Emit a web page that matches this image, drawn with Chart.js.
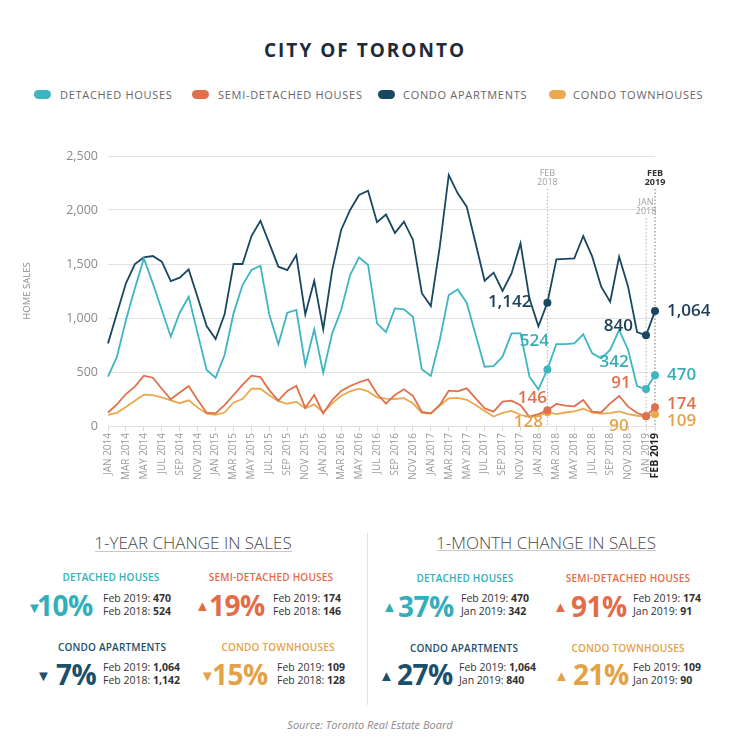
<!DOCTYPE html>
<html>
<head>
<meta charset="utf-8">
<script src="https://cdn.jsdelivr.net/npm/chart.js@4.4.1/dist/chart.umd.min.js"></script>
<style>
  body { margin: 0; background: #fff; font-family: "Open Sans", sans-serif; }
  #page { position: relative; width: 734px; height: 751px; overflow: hidden; background: #fff; }
  .t { position: absolute; white-space: nowrap; transform: translateY(-50%); line-height: 1; }
  .c { transform: translate(-50%, -50%); }
  .title { font-weight: 700; font-size: 19px; letter-spacing: 2px; color: #1d2b3a; }
  .leg { font-size: 11px; letter-spacing: 0.7px; color: #666; }
  .pill { position: absolute; width: 17px; height: 9px; border-radius: 5px; }
  .head { font-size: 17px; font-weight: 300; color: #4a4a4a; }
  .rule { position: absolute; height: 1px; background: #c8c8c8; }
  .lab { font-size: 10px; font-weight: 600; letter-spacing: 0.2px; }
  .tri { font-size: 15px; }
  .big { font-size: 28px; font-weight: 700; letter-spacing: -0.5px; }
  .sm { font-size: 10.5px; color: #333; }
  .sm b { font-weight: 700; }
  .teal { color: #33aebb; }
  .semi { color: #e36c48; }
  .cond { color: #1c4f6b; }
  .town { color: #e3a245; }
  #chartBox { position: absolute; left: 0; top: 130px; width: 734px; height: 370px; }
</style>
</head>
<body>
<div id="page">
  <div class="t c title" style="left:365px; top:50px;">CITY OF TORONTO</div>

  <div class="pill" style="left:34px; top:90px; background:#3fb5c1;"></div>
  <div class="t leg" style="left:60px; top:94px;">DETACHED HOUSES</div>
  <div class="pill" style="left:192px; top:90px; background:#e0704c;"></div>
  <div class="t leg" style="left:218px; top:94px;">SEMI-DETACHED HOUSES</div>
  <div class="pill" style="left:378px; top:90px; background:#19475f;"></div>
  <div class="t leg" style="left:403px; top:94px;">CONDO APARTMENTS</div>
  <div class="pill" style="left:549px; top:90px; background:#eaa94e;"></div>
  <div class="t leg" style="left:573px; top:94px;">CONDO TOWNHOUSES</div>

  <div id="chartBox"><canvas id="chart"></canvas></div>

  <!-- 1-year panel -->
  <div class="t c head" style="left:193px; top:542px;">1-YEAR CHANGE IN SALES</div>
  <div class="rule" style="left:95px; top:551px; width:197px;"></div>
  <div style="position:absolute; left:367px; top:533px; width:1px; height:172px; background:#e2e2e2;"></div>

  <div class="t c lab teal" style="left:111px; top:577px;">DETACHED HOUSES</div>
  <div class="t tri teal" style="left:27px; top:607px;">▼</div>
  <div class="t big teal" style="left:37px; top:605px;">10%</div>
  <div class="t sm" style="left:103px; top:598px;">Feb 2019: <b>470</b></div>
  <div class="t sm" style="left:103px; top:611px;">Feb 2018: <b>524</b></div>

  <div class="t c lab semi" style="left:271px; top:577px;">SEMI-DETACHED HOUSES</div>
  <div class="t tri semi" style="left:195px; top:605px;">▲</div>
  <div class="t big semi" style="left:209px; top:605px;">19%</div>
  <div class="t sm" style="left:273px; top:598px;">Feb 2019: <b>174</b></div>
  <div class="t sm" style="left:273px; top:611px;">Feb 2018: <b>146</b></div>

  <div class="t c lab cond" style="left:112px; top:647px;">CONDO APARTMENTS</div>
  <div class="t tri cond" style="left:36px; top:675px;">▼</div>
  <div class="t big cond" style="left:56px; top:674px;">7%</div>
  <div class="t sm" style="left:103px; top:667px;">Feb 2019: <b>1,064</b></div>
  <div class="t sm" style="left:103px; top:680px;">Feb 2018: <b>1,142</b></div>

  <div class="t c lab town" style="left:278px; top:647px;">CONDO TOWNHOUSES</div>
  <div class="t tri town" style="left:200px; top:675px;">▼</div>
  <div class="t big town" style="left:212px; top:674px;">15%</div>
  <div class="t sm" style="left:277px; top:667px;">Feb 2019: <b>109</b></div>
  <div class="t sm" style="left:277px; top:680px;">Feb 2018: <b>128</b></div>

  <!-- 1-month panel -->
  <div class="t c head" style="left:546px; top:542px;">1-MONTH CHANGE IN SALES</div>
  <div class="rule" style="left:437px; top:550px; width:219px;"></div>

  <div class="t c lab teal" style="left:465px; top:578px;">DETACHED HOUSES</div>
  <div class="t tri teal" style="left:382px; top:606px;">▲</div>
  <div class="t big teal" style="left:398px; top:606px;">37%</div>
  <div class="t sm" style="left:461px; top:598px;">Feb 2019: <b>470</b></div>
  <div class="t sm" style="left:461px; top:611px;">Jan 2019: <b>342</b></div>

  <div class="t c lab semi" style="left:628px; top:578px;">SEMI-DETACHED HOUSES</div>
  <div class="t tri semi" style="left:553px; top:606px;">▲</div>
  <div class="t big semi" style="left:571px; top:606px;">91%</div>
  <div class="t sm" style="left:633px; top:598px;">Feb 2019: <b>174</b></div>
  <div class="t sm" style="left:633px; top:611px;">Jan 2019: <b>91</b></div>

  <div class="t c lab cond" style="left:464px; top:648px;">CONDO APARTMENTS</div>
  <div class="t tri cond" style="left:379px; top:675px;">▲</div>
  <div class="t big cond" style="left:397px; top:674px;">27%</div>
  <div class="t sm" style="left:459px; top:667px;">Feb 2019: <b>1,064</b></div>
  <div class="t sm" style="left:459px; top:680px;">Jan 2019: <b>840</b></div>

  <div class="t c lab town" style="left:628px; top:648px;">CONDO TOWNHOUSES</div>
  <div class="t tri town" style="left:554px; top:675px;">▲</div>
  <div class="t big town" style="left:573px; top:674px;">21%</div>
  <div class="t sm" style="left:633px; top:667px;">Feb 2019: <b>109</b></div>
  <div class="t sm" style="left:633px; top:680px;">Jan 2019: <b>90</b></div>

  <div class="t c" style="left:370px; top:724px; font-size:11px; font-style:italic; color:#8a8a8a;">Source: Toronto Real Estate Board</div>
</div>

<script>
const months = [
  "JAN 2014", "FEB 2014", "MAR 2014", "APR 2014", "MAY 2014", "JUN 2014", "JUL 2014", "AUG 2014", "SEP 2014", "OCT 2014", "NOV 2014", "DEC 2014",
  "JAN 2015", "FEB 2015", "MAR 2015", "APR 2015", "MAY 2015", "JUN 2015", "JUL 2015", "AUG 2015", "SEP 2015", "OCT 2015", "NOV 2015", "DEC 2015",
  "JAN 2016", "FEB 2016", "MAR 2016", "APR 2016", "MAY 2016", "JUN 2016", "JUL 2016", "AUG 2016", "SEP 2016", "OCT 2016", "NOV 2016", "DEC 2016",
  "JAN 2017", "FEB 2017", "MAR 2017", "APR 2017", "MAY 2017", "JUN 2017", "JUL 2017", "AUG 2017", "SEP 2017", "OCT 2017", "NOV 2017", "DEC 2017",
  "JAN 2018", "FEB 2018", "MAR 2018", "APR 2018", "MAY 2018", "JUN 2018", "JUL 2018", "AUG 2018", "SEP 2018", "OCT 2018", "NOV 2018", "DEC 2018",
  "JAN 2019", "FEB 2019"
];

const detached = [
  457, 642, 981, 1275, 1552, 1321, 1074, 827, 1049, 1197, 855, 518,
  447, 657, 1043, 1305, 1444, 1484, 1028, 756, 1049, 1074, 565, 895,
  494, 858, 1074, 1398, 1561, 1491, 950, 870, 1089, 1080, 1012, 525,
  463, 796, 1213, 1265, 1142, 842, 549, 555, 642, 858, 858, 457,
  339, 524, 759, 759, 765, 849, 673, 626, 704, 889, 704, 370,
  342, 470
];
const semiDetached = [
  125, 200, 296, 364, 466, 447, 345, 247, 310, 370, 240, 123,
  117, 194, 287, 380, 466, 452, 330, 235, 325, 372, 168, 287,
  117, 240, 325, 370, 405, 432, 298, 207, 288, 340, 280, 130,
  117, 195, 327, 320, 349, 256, 164, 133, 225, 235, 192, 86,
  110, 146, 204, 188, 182, 241, 133, 125, 210, 278, 179, 120,
  91, 174
];
const condoApts = [
  765, 1045, 1321, 1500, 1561, 1574, 1521, 1342, 1373, 1450, 1190, 926,
  805, 1034, 1500, 1500, 1759, 1901, 1688, 1475, 1444, 1583, 1034, 1345,
  895, 1444, 1815, 2000, 2139, 2179, 1887, 1958, 1787, 1892, 1725, 1230,
  1111, 1660, 2324, 2154, 2031, 1690, 1345, 1420, 1250, 1413, 1691, 1180,
  923, 1142, 1543, 1548, 1552, 1759, 1568, 1290, 1151, 1568, 1290, 870,
  840, 1064
];
const condoTowns = [
  104, 122, 176, 234, 290, 285, 265, 238, 211, 238, 170, 115,
  104, 125, 218, 250, 345, 345, 285, 230, 206, 225, 164, 200,
  125, 210, 280, 320, 345, 320, 265, 253, 250, 258, 210, 122,
  116, 190, 256, 260, 243, 195, 140, 88, 122, 140, 104, 82,
  92, 128, 110, 125, 135, 160, 125, 115, 120, 135, 110, 95,
  90, 109
];
const yTicks = [0, 500, 1000, 1500, 2000, 2500];
const markedMonths = [49, 60, 61];

const colors = ["#3fb5c1", "#e0704c", "#19475f", "#eaa94e"];
const labelColors = ["#36adba", "#e0704c", "#1b3f55", "#e3a44c"];

function makeSet(name, data, color) {
  return {
    label: name,
    data: data,
    borderColor: color,
    backgroundColor: color,
    borderWidth: 1.8,
    tension: 0,
    pointRadius: (ctx) => (markedMonths.includes(ctx.dataIndex) ? 4 : 0),
    pointBorderWidth: 0,
    pointBackgroundColor: color,
  };
}

// dotted reference lines for Feb 2018, Jan 2019, Feb 2019
const refLines = {
  id: "refLines",
  beforeDatasetsDraw(chart) {
    const { ctx, chartArea, scales } = chart;
    const marks = [
      { i: 49, words: ["FEB", "2018"], top: 17, color: "#a0a0a0", bold: false },
      { i: 60, words: ["JAN", "2018"], top: 46, color: "#a0a0a0", bold: false },
      { i: 61, words: ["FEB", "2019"], top: 17, color: "#333", bold: true },
    ];
    ctx.save();
    marks.forEach((m) => {
      const x = scales.x.getPixelForValue(m.i);
      ctx.fillStyle = m.color;
      ctx.font = (m.bold ? "700 " : "400 ") + "9px 'Open Sans'";
      ctx.textAlign = "center";
      ctx.textBaseline = "middle";
      ctx.fillText(m.words[0], x, chartArea.top + m.top);
      ctx.fillText(m.words[1], x, chartArea.top + m.top + 9);
      ctx.strokeStyle = m.bold ? "#777" : "#b5b5b5";
      ctx.lineWidth = 1;
      ctx.setLineDash([1.5, 2]);
      ctx.beginPath();
      ctx.moveTo(x, chartArea.top + m.top + 16);
      ctx.lineTo(x, chartArea.bottom);
      ctx.stroke();
    });
    ctx.restore();
  },
};

// value callouts next to the marked points
const callouts = {
  id: "callouts",
  afterDatasetsDraw(chart) {
    const { ctx } = chart;
    const spots = [
      [2, 49, "right", -16, -1], [2, 60, "right", -13, -9], [2, 61, "left", 12, 0],
      [0, 49, "center", -13, -28], [0, 60, "center", -32, -27], [0, 61, "left", 12, 0],
      [1, 49, "center", -15, -12], [1, 60, "center", -25, -33], [1, 61, "left", 12, -3],
      [3, 49, "center", -19, 10], [3, 60, "center", -27, 10], [3, 61, "left", 12, 7],
    ];
    ctx.save();
    ctx.font = "600 17px 'Open Sans'";
    ctx.textBaseline = "middle";
    spots.forEach(([d, i, align, dx, dy]) => {
      const pt = chart.getDatasetMeta(d).data[i];
      ctx.fillStyle = labelColors[d];
      ctx.textAlign = align;
      ctx.fillText(chart.data.datasets[d].data[i].toLocaleString("en-US"), pt.x + dx, pt.y + dy);
    });
    ctx.restore();
  },
};

new Chart(document.getElementById("chart"), {
  type: "line",
  data: {
    labels: months,
    datasets: [
      makeSet("DETACHED HOUSES", detached, colors[0]),
      makeSet("SEMI-DETACHED HOUSES", semiDetached, colors[1]),
      makeSet("CONDO APARTMENTS", condoApts, colors[2]),
      makeSet("CONDO TOWNHOUSES", condoTowns, colors[3]),
    ],
  },
  options: {
    responsive: true,
    maintainAspectRatio: false,
    animation: false,
    layout: { padding: { top: 26, right: 79, left: 0, bottom: 0 } },
    plugins: { legend: { display: false }, tooltip: { enabled: false } },
    scales: {
      x: {
        offset: false,
        grid: {
          drawOnChartArea: false,
          tickLength: 5,
          color: (ctx) => (ctx.index % 2 === 0 || ctx.index === 61 ? "#d8d8d8" : "rgba(0,0,0,0)"),
        },
        border: { display: false },
        ticks: {
          autoSkip: false,
          maxRotation: 90,
          minRotation: 90,
          padding: 2,
          color: (ctx) => (ctx.index === 61 ? "#222" : "#9a9a9a"),
          font: (ctx) => (ctx.index === 61
            ? { family: "Open Sans", size: 10.5, weight: "700" }
            : { family: "Open Sans", size: 10 }),
          callback: (v, i) => (i % 2 === 0 || i === 61 ? months[i] : ""),
        },
        afterFit: (s) => { s.height = 74; },
      },
      y: {
        min: 0,
        max: 2500,
        afterBuildTicks: (s) => { s.ticks = yTicks.map((v) => ({ value: v })); },
        grid: { color: "#e2e2e2", drawTicks: false },
        border: { display: false },
        ticks: {
          padding: 10,
          color: "#8a8a8a",
          font: { family: "Open Sans", size: 12.5 },
          callback: (v) => v.toLocaleString("en-US"),
        },
        title: {
          display: true,
          text: "HOME SALES",
          color: "#8a8a8a",
          font: { family: "Open Sans", size: 9.5 },
          padding: { top: 22, bottom: 0 },
        },
        afterFit: (s) => { s.width = 108; },
      },
    },
  },
  plugins: [refLines, callouts],
});
</script>
</body>
</html>
